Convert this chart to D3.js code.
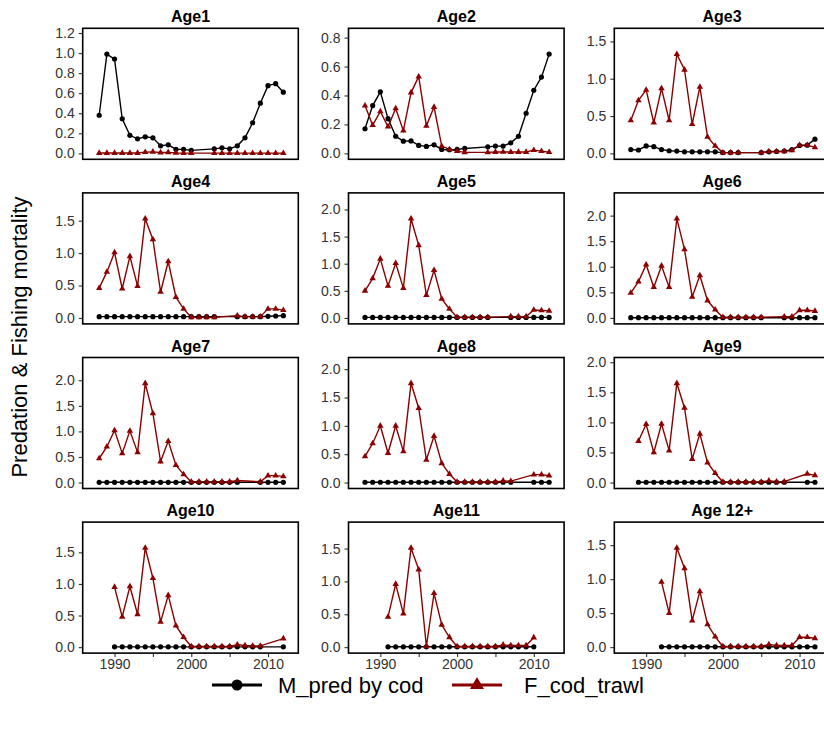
<!DOCTYPE html>
<html>
<head>
<meta charset="utf-8">
<script src="https://cdn.jsdelivr.net/npm/d3@7"></script>
<style>
  html, body { margin: 0; padding: 0; background: #fff; }
  svg { display: block; font-family: "Liberation Sans", Arial, sans-serif; }
</style>
</head>
<body>
<svg id="chart" width="824" height="729"></svg>
<script>
// Panel titles (one facet per age class)
const ages = ["Age1", "Age2", "Age3", "Age4", "Age5", "Age6",
              "Age7", "Age8", "Age9", "Age10", "Age11", "Age 12+"];

// Years with estimates for each age class
const years = [
  [1988,1989,1990,1991,1992,1993,1994,1995,1996,1997,1998,1999,2000,2003,2004,2005,2006,2007,2008,2009,2010,2011,2012],
  [1988,1989,1990,1991,1992,1993,1994,1995,1996,1997,1998,1999,2000,2001,2004,2005,2006,2007,2008,2009,2010,2011,2012],
  [1988,1989,1990,1991,1992,1993,1994,1995,1996,1997,1998,1999,2000,2001,2002,2005,2006,2007,2008,2009,2010,2011,2012],
  [1988,1989,1990,1991,1992,1993,1994,1995,1996,1997,1998,1999,2000,2001,2002,2003,2006,2007,2008,2009,2010,2011,2012],
  [1988,1989,1990,1991,1992,1993,1994,1995,1996,1997,1998,1999,2000,2001,2002,2003,2004,2007,2008,2009,2010,2011,2012],
  [1988,1989,1990,1991,1992,1993,1994,1995,1996,1997,1998,1999,2000,2001,2002,2003,2004,2005,2008,2009,2010,2011,2012],
  [1988,1989,1990,1991,1992,1993,1994,1995,1996,1997,1998,1999,2000,2001,2002,2003,2004,2005,2006,2009,2010,2011,2012],
  [1988,1989,1990,1991,1992,1993,1994,1995,1996,1997,1998,1999,2000,2001,2002,2003,2004,2005,2006,2007,2010,2011,2012],
  [1989,1990,1991,1992,1993,1994,1995,1996,1997,1998,1999,2000,2001,2002,2003,2004,2005,2006,2007,2008,2011,2012],
  [1990,1991,1992,1993,1994,1995,1996,1997,1998,1999,2000,2001,2002,2003,2004,2005,2006,2007,2008,2009,2012],
  [1991,1992,1993,1994,1995,1996,1997,1998,1999,2000,2001,2002,2003,2004,2005,2006,2007,2008,2009,2010],
  [1992,1993,1994,1995,1996,1997,1998,1999,2000,2001,2002,2003,2004,2005,2006,2007,2008,2009,2010,2011,2012]
];

// Predation mortality by cod (M_pred by cod)
const mPred = [
  [0.38,0.99,0.94,0.345,0.18,0.145,0.165,0.155,0.075,0.085,0.04,0.04,0.03,0.045,0.055,0.045,0.075,0.155,0.305,0.50,0.675,0.695,0.61],
  [0.17,0.33,0.425,0.24,0.118,0.084,0.086,0.055,0.048,0.059,0.027,0.025,0.027,0.034,0.045,0.05,0.05,0.073,0.118,0.277,0.436,0.527,0.686],
  [0.05,0.045,0.10,0.09,0.05,0.035,0.03,0.02,0.02,0.02,0.02,0.02,0.01,0.01,0.01,0.01,0.02,0.025,0.03,0.05,0.105,0.11,0.19],
  [0.02,0.02,0.02,0.02,0.02,0.02,0.02,0.02,0.02,0.02,0.02,0.02,0.02,0.02,0.02,0.02,0.02,0.02,0.02,0.02,0.025,0.03,0.035],
  [0.01,0.01,0.01,0.01,0.01,0.01,0.01,0.01,0.01,0.01,0.01,0.01,0.01,0.01,0.01,0.01,0.01,0.01,0.01,0.01,0.01,0.01,0.01],
  [0.005,0.005,0.005,0.005,0.005,0.005,0.005,0.005,0.005,0.005,0.005,0.005,0.005,0.005,0.005,0.005,0.005,0.005,0.005,0.005,0.005,0.005,0.005],
  [0.005,0.005,0.005,0.005,0.005,0.005,0.005,0.005,0.005,0.005,0.005,0.005,0.005,0.005,0.005,0.005,0.005,0.005,0.005,0.005,0.005,0.005,0.005],
  [0.005,0.005,0.005,0.005,0.005,0.005,0.005,0.005,0.005,0.005,0.005,0.005,0.005,0.005,0.005,0.005,0.005,0.005,0.005,0.005,0.005,0.005,0.005],
  [0.005,0.005,0.005,0.005,0.005,0.005,0.005,0.005,0.005,0.005,0.005,0.005,0.005,0.005,0.005,0.005,0.005,0.005,0.005,0.005,0.005,0.005],
  [0.005,0.005,0.005,0.005,0.005,0.005,0.005,0.005,0.005,0.005,0.005,0.005,0.005,0.005,0.005,0.005,0.005,0.005,0.005,0.005,0.005],
  [0.005,0.005,0.005,0.005,0.005,0.005,0.005,0.005,0.005,0.005,0.005,0.005,0.005,0.005,0.005,0.005,0.005,0.005,0.005,0.005],
  [0.005,0.005,0.005,0.005,0.005,0.005,0.005,0.005,0.005,0.005,0.005,0.005,0.005,0.005,0.005,0.005,0.005,0.005,0.005,0.005,0.005]
];

// Trawl fishing mortality (F_cod_trawl)
const fTrawl = [
  [0.003,0.003,0.003,0.003,0.003,0.003,0.012,0.015,0.008,0.01,0.004,0.002,0.002,0.002,0.002,0.002,0.002,0.002,0.002,0.002,0.002,0.002,0.002],
  [0.33,0.195,0.29,0.184,0.31,0.157,0.42,0.53,0.19,0.32,0.05,0.027,0.015,0.007,0.007,0.009,0.01,0.009,0.009,0.009,0.022,0.015,0.008],
  [0.44,0.71,0.85,0.41,0.87,0.44,1.33,1.12,0.39,0.89,0.22,0.10,0.01,0.01,0.01,0.01,0.025,0.025,0.025,0.04,0.11,0.11,0.08],
  [0.46,0.71,1.01,0.45,0.95,0.49,1.53,1.21,0.40,0.87,0.32,0.14,0.01,0.01,0.01,0.01,0.035,0.02,0.02,0.02,0.14,0.14,0.12],
  [0.50,0.73,1.09,0.59,1.01,0.55,1.83,1.34,0.42,0.88,0.35,0.165,0.015,0.015,0.015,0.015,0.015,0.025,0.025,0.025,0.147,0.14,0.13],
  [0.49,0.71,1.04,0.60,1.02,0.60,1.94,1.34,0.41,0.83,0.34,0.16,0.015,0.015,0.015,0.015,0.015,0.015,0.025,0.025,0.15,0.15,0.135],
  [0.47,0.70,1.02,0.57,1.01,0.59,1.94,1.35,0.41,0.81,0.34,0.16,0.015,0.015,0.015,0.015,0.015,0.015,0.04,0.015,0.135,0.135,0.12],
  [0.46,0.69,1.00,0.52,1.00,0.55,1.75,1.31,0.40,0.82,0.34,0.15,0.01,0.01,0.01,0.01,0.01,0.01,0.03,0.025,0.14,0.14,0.12],
  [0.69,0.97,0.50,0.975,0.53,1.65,1.24,0.39,0.81,0.33,0.155,0.01,0.01,0.01,0.01,0.01,0.01,0.03,0.015,0.015,0.145,0.12],
  [0.95,0.48,0.96,0.52,1.57,1.09,0.40,0.82,0.34,0.157,0.01,0.01,0.01,0.01,0.01,0.01,0.04,0.025,0.02,0.02,0.136],
  [0.46,0.96,0.51,1.51,1.18,0.01,0.82,0.34,0.15,0.01,0.01,0.01,0.01,0.01,0.01,0.035,0.025,0.025,0.025,0.146],
  [0.96,0.50,1.46,1.16,0.39,0.82,0.335,0.155,0.01,0.01,0.01,0.01,0.01,0.01,0.04,0.025,0.025,0.025,0.146,0.146,0.13]
];

// Year axis
const xTicks = [1990, 1995, 2000, 2005, 2010];
const xTickLabels = ["1990", "", "2000", "", "2010"];

const seriesNames = ["M_pred by cod", "F_cod_trawl"];
const seriesColors = ["#000000", "#8b0000"];

// Layout
const colLeft = [82.7, 348.5, 614.3];
const panelW = 215.6;
const rowTop = [28.3, 192.9, 357.5, 522.1];
const panelH = 131;
const nCols = 3;

const svg = d3.select("#chart");

const x = d3.scaleLinear().domain([1985.85, 2013.95]).range([0, panelW]);
const triangle = d3.symbol().type(d3.symbolTriangle).size(18);

ages.forEach((age, i) => {
  const col = i % nCols, row = Math.floor(i / nCols);
  const g = svg.append("g").attr("transform", `translate(${colLeft[col]},${rowTop[row]})`);

  const dataM = years[i].map((yr, k) => ({ yr, v: mPred[i][k] }));
  const dataF = years[i].map((yr, k) => ({ yr, v: fTrawl[i][k] }));
  const top = 1.2 * d3.max([...mPred[i], ...fTrawl[i]]);
  const pad = 0.05 * top;
  const y = d3.scaleLinear().domain([-pad, top + pad]).range([panelH, 0]);

  // Y axis
  const yAxis = g.append("g").call(
    d3.axisLeft(y).ticks(5).tickSize(4).tickPadding(4).tickFormat(d3.format(".1f"))
  );
  yAxis.selectAll(".tick").filter(d => d < 0).remove();
  yAxis.select(".domain").remove();
  yAxis.selectAll("line").attr("stroke", "#333").attr("stroke-width", 1.1);
  yAxis.selectAll("text").attr("fill", "#333").style("font-size", "14px");

  // X axis only on the bottom row
  if (row === 3) {
    const xAxis = g.append("g").attr("transform", `translate(0,${panelH})`).call(
      d3.axisBottom(x).tickValues(xTicks).tickSize(4).tickPadding(2)
        .tickFormat((d, k) => xTickLabels[k])
    );
    xAxis.select(".domain").remove();
    xAxis.selectAll("line").attr("stroke", "#333").attr("stroke-width", 1.1);
    xAxis.selectAll("text").attr("fill", "#333").style("font-size", "14px");
  }

  // Lines
  const line = d3.line().x(d => x(d.yr)).y(d => y(d.v));
  g.append("path").datum(dataM).attr("d", line)
    .attr("fill", "none").attr("stroke", seriesColors[0]).attr("stroke-width", 1.4);
  g.append("path").datum(dataF).attr("d", line)
    .attr("fill", "none").attr("stroke", seriesColors[1]).attr("stroke-width", 1.4);

  // Points
  g.selectAll("circle.m").data(dataM).join("circle")
    .attr("class", "m")
    .attr("cx", d => x(d.yr)).attr("cy", d => y(d.v)).attr("r", 2.6)
    .attr("fill", seriesColors[0]);
  g.selectAll("path.f").data(dataF).join("path")
    .attr("class", "f")
    .attr("transform", d => `translate(${x(d.yr)},${y(d.v)})`)
    .attr("d", triangle)
    .attr("fill", seriesColors[1]);

  // Panel border
  g.append("rect").attr("x", 0).attr("y", 0).attr("width", panelW).attr("height", panelH)
    .attr("fill", "none").attr("stroke", "#000").attr("stroke-width", 1.6);

  // Facet title
  g.append("text").attr("x", panelW / 2).attr("y", -6)
    .attr("text-anchor", "middle").style("font-size", "16px").style("font-weight", "bold")
    .attr("fill", "#000").text(age);
});

// Y axis title
svg.append("text")
  .attr("transform", "translate(27,337) rotate(-90)")
  .attr("text-anchor", "middle").style("font-size", "22px").attr("fill", "#000")
  .text("Predation & Fishing mortality");

// Legend
const legend = svg.append("g").attr("transform", "translate(0,685)");
const legendX = [212, 452];
const legendTextX = [278, 524];
seriesNames.forEach((name, k) => {
  legend.append("line").attr("x1", legendX[k]).attr("x2", legendX[k] + 50)
    .attr("y1", 0).attr("y2", 0).attr("stroke", seriesColors[k]).attr("stroke-width", 2.8);
  if (k === 0) {
    legend.append("circle").attr("cx", legendX[k] + 25).attr("cy", 0).attr("r", 5.5)
      .attr("fill", seriesColors[k]);
  } else {
    legend.append("path").attr("transform", `translate(${legendX[k] + 25},0)`)
      .attr("d", d3.symbol().type(d3.symbolTriangle).size(85)).attr("fill", seriesColors[k]);
  }
  legend.append("text").attr("x", legendTextX[k]).attr("y", 8)
    .style("font-size", "22px").attr("fill", "#000").text(name);
});
</script>
</body>
</html>
